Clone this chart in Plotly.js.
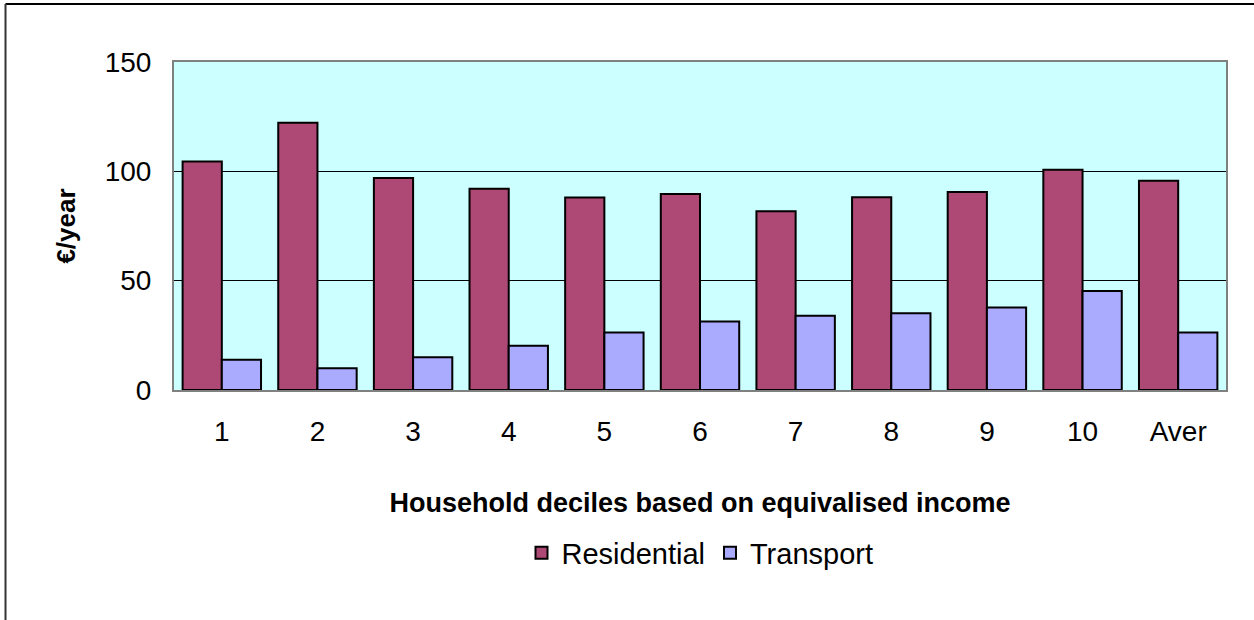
<!DOCTYPE html>
<html>
<head>
<meta charset="utf-8">
<script src="https://cdn.plot.ly/plotly-3.0.1.min.js"></script>
<style>html,body{margin:0;padding:0;background:#fff;}#chart{width:1254px;height:620px;}</style>
</head>
<body>
<div id="chart"></div>
<script>
const categories = ["1", "2", "3", "4", "5", "6", "7", "8", "9", "10", "Aver"];
const residential = [104.5, 122.2, 97, 92, 88, 89.6, 81.8, 88.2, 90.6, 100.7, 95.7];
const transport = [13.8, 10, 15, 20.2, 26.3, 31.3, 33.9, 35.1, 37.7, 45.3, 26.3];
const yTicks = [0, 50, 100, 150];

const font = "Liberation Sans, Arial, sans-serif";

const traces = [
  {
    type: "bar", name: "Residential", x: categories, y: residential,
    marker: {color: "#AE4874", line: {color: "#000000", width: 2}},
    hoverinfo: "x+y+name"
  },
  {
    type: "bar", name: "Transport", x: categories, y: transport,
    marker: {color: "#AAAAFF", line: {color: "#000000", width: 2}},
    hoverinfo: "x+y+name"
  }
];

const layout = {
  width: 1254, height: 620,
  margin: {l: 174, r: 28, t: 62, b: 230, pad: 0},
  paper_bgcolor: "#ffffff",
  plot_bgcolor: "#CCFFFF",
  barmode: "group",
  bargap: 0.18,
  bargroupgap: 0,
  font: {family: font, size: 20, color: "#000"},
  showlegend: true,
  legend: {
    orientation: "h", x: 0.5, xanchor: "center", y: -0.497, yanchor: "middle",
    font: {family: font, size: 29, color: "#000"},
    bgcolor: "rgba(0,0,0,0)", itemwidth: 30, tracegroupgap: 0
  },
  xaxis: {
    type: "category",
    showline: true, linecolor: "#808080", linewidth: 2, mirror: true,
    ticks: "", showgrid: false, zeroline: false,
    tickfont: {family: font, size: 28, color: "#000"},
    ticklabelstandoff: 15,
    automargin: false,
    title: {text: "Household deciles based on equivalised income",
            font: {family: font, size: 27, color: "#000", weight: "bold"}, standoff: 48}
  },
  yaxis: {
    range: [0, 150], tickvals: yTicks, ticktext: yTicks.map(String),
    showline: true, linecolor: "#808080", linewidth: 2, mirror: true,
    ticks: "", showgrid: true, gridcolor: "#000000", gridwidth: 1, zeroline: false,
    tickfont: {family: font, size: 28, color: "#000"},
    ticklabelstandoff: 15,
    automargin: false,
    title: {text: "€/year", font: {family: font, size: 26, color: "#000", weight: "bold"}, standoff: 22}
  },
  shapes: [
    {type: "line", xref: "paper", yref: "paper",
     x0: (5.5 - 174) / 1052, x1: (1254 - 174) / 1052, y0: (390 - 4) / 328, y1: (390 - 4) / 328,
     line: {color: "#000000", width: 2}},
    {type: "line", xref: "paper", yref: "paper",
     x0: (5.5 - 174) / 1052, x1: (5.5 - 174) / 1052, y0: (390 - 4) / 328, y1: (390 - 620) / 328,
     line: {color: "#333333", width: 2}}
  ]
};

Plotly.newPlot("chart", traces, layout, {displayModeBar: false, staticPlot: true});
</script>
</body>
</html>
